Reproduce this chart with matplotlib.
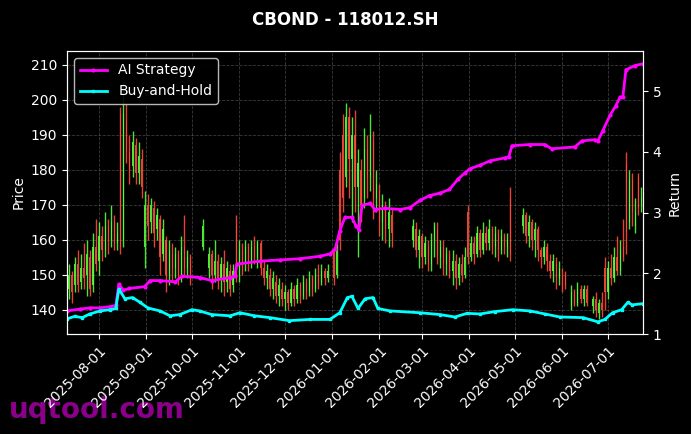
import matplotlib
matplotlib.use("Agg")
import matplotlib.pyplot as plt
import matplotlib.dates as mdates
import numpy as np
import pandas as pd

# start of the x range; every "day" value below is an offset in days from it
start = pd.Timestamp("2025-07-11")
end = pd.Timestamp("2026-07-24")

# candles (price axis)
candle_day = [1, 3, 5, 7, 9, 11, 13, 15, 17, 19, 21, 23, 25, 27, 29, 31, 33, 35, 37, 39,
              41, 43, 45, 47, 49, 51, 53, 55, 57, 59, 61, 63, 65, 67, 69, 71, 73, 75, 77, 79,
              81, 89, 93, 95, 97, 99, 101, 103, 105, 107, 109, 111, 113, 115, 117, 119, 121, 123, 125, 127,
              129, 131, 133, 135, 137, 139, 141, 143, 145, 147, 149, 151, 153, 155, 157, 159, 161, 163, 165, 167,
              169, 171, 175, 177, 179, 181, 183, 185, 187, 189, 191, 193, 195, 197, 199, 201, 203, 205, 207, 209,
              211, 213, 227, 229, 231, 233, 235, 237, 239, 241, 243, 245, 247, 249, 251, 253, 255, 257, 259, 261,
              263, 265, 267, 269, 271, 273, 275, 277, 279, 281, 283, 285, 287, 289, 291, 299, 301, 303, 305, 307,
              309, 311, 313, 315, 317, 319, 321, 323, 325, 327, 331, 333, 335, 337, 339, 341, 345, 347, 349, 351,
              353, 355, 357, 359, 361, 363, 365, 367, 369, 371, 373, 375, 377]
candle_open = [146, 150, 147, 153, 148, 152, 150, 155, 147, 158, 154, 161, 157, 164, 160, 165, 159, 196, 160, 194,
               185, 181, 187, 179, 183, 158, 170, 165, 169, 163, 166, 156, 160, 150, 156, 152, 156, 150, 158, 152,
               155, 158, 152, 156, 150, 154, 149, 153, 148, 151, 147, 164, 150, 157, 153, 158, 154, 158, 155, 159,
               152, 149, 150, 146, 148, 144, 146, 143, 145, 142, 146, 143, 147, 144, 148, 145, 149, 146, 150, 148,
               151, 149, 157, 150, 180, 190, 178, 195, 183, 190, 175, 180, 172, 186, 178, 188, 172, 174, 165, 169,
               163, 167, 160, 163, 157, 161, 155, 158, 153, 160, 163, 155, 158, 153, 156, 151, 154, 149, 153, 150,
               168, 155, 159, 156, 162, 157, 162, 159, 163, 158, 162, 157, 161, 158, 172, 164, 167, 161, 165, 160,
               163, 157, 155, 158, 154, 151, 153, 149, 150, 150, 141, 145, 142, 146, 143, 146, 141, 143, 139, 142,
               152, 145, 152, 149, 155, 151, 158, 182, 165, 177, 164, 178, 170]
candle_close = [150, 145, 153, 147, 152, 149, 156, 146, 158, 153, 161, 157, 164, 160, 165, 159, 162, 158, 196, 185,
                180, 188, 179, 184, 175, 170, 164, 170, 162, 167, 155, 163, 150, 157, 152, 156, 150, 158, 152, 155,
                150, 164, 156, 150, 154, 149, 153, 148, 152, 146, 151, 150, 157, 153, 158, 154, 158, 155, 159, 152,
                149, 151, 146, 149, 144, 147, 143, 145, 142, 146, 143, 147, 144, 148, 145, 149, 146, 150, 147, 151,
                149, 151, 149, 158, 160, 172, 195, 183, 190, 175, 182, 170, 186, 178, 190, 172, 176, 165, 170, 163,
                168, 162, 164, 157, 161, 155, 159, 153, 160, 164, 155, 158, 153, 156, 151, 154, 149, 153, 150, 155,
                155, 159, 156, 162, 157, 162, 159, 163, 158, 162, 157, 161, 158, 160, 156, 167, 161, 165, 160, 163,
                157, 155, 158, 154, 151, 154, 149, 152, 146, 147, 145, 142, 146, 143, 146, 142, 143, 140, 142, 140,
                145, 152, 149, 155, 151, 157, 155, 162, 177, 168, 168, 169, 172]
candle_high = [153, 151, 155, 157, 156, 159, 160, 157, 162, 166, 165, 164, 168, 166, 170, 167, 165, 198, 205, 199,
               190, 191, 189, 188, 186, 174, 173, 172, 171, 169, 167, 166, 161, 160, 159, 158, 157, 161, 167, 157,
               156, 166, 158, 157, 160, 156, 155, 157, 154, 153, 153, 167, 160, 159, 160, 159, 160, 161, 160, 160,
               154, 153, 152, 151, 150, 149, 148, 147, 146, 148, 147, 149, 148, 150, 149, 151, 150, 152, 153, 153,
               152, 153, 158, 160, 185, 196, 199, 198, 195, 197, 186, 183, 192, 190, 196, 191, 180, 176, 173, 171,
               172, 169, 166, 165, 163, 162, 161, 160, 162, 165, 165, 160, 160, 158, 157, 157, 156, 155, 156, 158,
               170, 161, 161, 164, 163, 165, 164, 166, 164, 164, 163, 163, 162, 162, 175, 169, 168, 167, 166, 165,
               164, 158, 160, 159, 156, 156, 155, 154, 152, 151, 147, 146, 148, 147, 147, 147, 144, 145, 143, 145,
               155, 154, 156, 158, 161, 160, 166, 185, 180, 179, 172, 179, 175]
candle_low = [143, 142, 145, 145, 146, 146, 144, 144, 145, 151, 150, 154, 155, 156, 158, 157, 157, 156, 158, 182,
              176, 178, 176, 176, 172, 152, 160, 162, 158, 160, 150, 154, 145, 147, 148, 149, 147, 148, 150, 149,
              147, 157, 149, 146, 148, 146, 145, 144, 145, 144, 145, 148, 148, 150, 151, 151, 152, 153, 152, 150,
              147, 146, 144, 143, 142, 141, 141, 140, 140, 141, 141, 142, 142, 143, 143, 144, 144, 145, 146, 147,
              147, 148, 147, 149, 157, 168, 175, 172, 165, 168, 155, 165, 169, 172, 174, 166, 168, 161, 160, 159,
              158, 158, 158, 155, 152, 152, 153, 151, 151, 155, 153, 152, 150, 150, 149, 147, 146, 147, 148, 149,
              153, 154, 153, 155, 155, 156, 157, 157, 156, 155, 154, 156, 156, 155, 154, 162, 159, 158, 157, 155,
              154, 152, 153, 151, 149, 148, 146, 147, 145, 146, 140, 141, 141, 142, 141, 141, 139, 138, 137.5, 138,
              140, 143, 147, 148, 150, 150, 154, 156, 163, 164, 162, 167, 168]

# cumulative return (right axis)
ai_day = [0, 8.5, 15, 21.7, 28, 32, 34, 37, 41, 51, 54.5, 61, 71, 75.5, 87, 95, 107, 110, 111.5, 126.6,
          140, 153, 166, 172.6, 176, 179, 182.4, 187, 189.6, 191.6, 193.6, 199, 202, 208.7, 218.5, 225, 231.6, 238, 244.8, 251,
          256.6, 261, 264.4, 271, 277.6, 287.4, 290, 292, 303.8, 313.6, 318, 333.3, 338, 346.5, 348.4, 351.7, 356.3, 360, 362.9, 364.8,
          366.8, 372.7, 378]
ai_ret = [1.38, 1.41, 1.43, 1.43, 1.45, 1.47, 1.82, 1.72, 1.75, 1.78, 1.88, 1.88, 1.86, 1.95, 1.93, 1.88, 1.93, 1.95, 2.15, 2.20,
          2.22, 2.24, 2.28, 2.32, 2.40, 2.70, 2.92, 2.92, 2.78, 2.72, 3.12, 3.15, 3.05, 3.07, 3.05, 3.08, 3.20, 3.28, 3.32, 3.38,
          3.55, 3.65, 3.72, 3.78, 3.85, 3.90, 3.92, 4.10, 4.12, 4.12, 4.05, 4.08, 4.18, 4.20, 4.18, 4.35, 4.60, 4.75, 4.90, 4.90,
          5.35, 5.42, 5.45]
bh_day = [0, 5, 10, 15, 21.7, 28, 32, 34, 38, 43, 48, 53, 61, 67.6, 74, 82, 87, 95, 107, 113.5,
          123, 133, 146, 159.4, 172.6, 179, 184, 187, 191, 195.6, 200.8, 204, 212, 231.6, 244.8, 254.6, 262.5, 271, 281, 292.7,
          303.8, 313.6, 323.5, 338.6, 348.4, 353, 358, 364, 368, 371, 378]
bh_ret = [1.25, 1.29, 1.27, 1.33, 1.38, 1.40, 1.42, 1.74, 1.58, 1.60, 1.52, 1.43, 1.38, 1.30, 1.32, 1.40, 1.38, 1.32, 1.30, 1.35,
          1.30, 1.27, 1.22, 1.24, 1.24, 1.35, 1.60, 1.62, 1.42, 1.58, 1.60, 1.42, 1.38, 1.35, 1.32, 1.28, 1.34, 1.33, 1.37, 1.40,
          1.38, 1.33, 1.28, 1.27, 1.20, 1.24, 1.35, 1.40, 1.52, 1.48, 1.50]

plt.style.use("dark_background")
fig = plt.figure(figsize=(6.91, 4.34), dpi=100)
ax = fig.add_axes([0.097, 0.2304, 0.8335, 0.6521])
ax2 = ax.twinx()

# candlesticks
cx = mdates.date2num(start + pd.to_timedelta(candle_day, unit="D"))
o = np.array(candle_open, dtype=float)
c = np.array(candle_close, dtype=float)
up = c >= o
colors = np.where(up, "#55ff3a", "#ff4a3a")
ax.vlines(cx, candle_low, candle_high, colors=colors, linewidth=1.0, alpha=0.9)
ax.bar(cx, np.abs(c - o), bottom=np.minimum(o, c), width=0.8, color=colors,
       linewidth=0, alpha=0.9)

# strategy lines
ai_x = start + pd.to_timedelta(ai_day, unit="D")
bh_x = start + pd.to_timedelta(bh_day, unit="D")
ax2.plot(ai_x, ai_ret, color="#ff00ff", linewidth=2, marker="o", markersize=2, label="AI Strategy")
ax2.plot(bh_x, bh_ret, color="#00ffff", linewidth=2, marker="s", markersize=2, label="Buy-and-Hold")

ax.set_xlim(start, end)
ax.set_ylim(133.14, 214)
ax2.set_ylim(1, 5.66)
ax.set_yticks([140, 150, 160, 170, 180, 190, 200, 210])
ax2.set_yticks([1, 2, 3, 4, 5])

ax.xaxis.set_major_locator(mdates.MonthLocator())
ax.xaxis.set_major_formatter(mdates.DateFormatter("%Y-%m-%d"))
for lab in ax.get_xticklabels():
    lab.set_rotation(45)
    lab.set_ha("right")
    lab.set_rotation_mode("anchor")

ax.grid(True, linestyle="--", linewidth=0.6, color="gray", alpha=0.45)
ax.set_ylabel("Price")
ax2.set_ylabel("Return")

ax2.legend(loc="upper left", fontsize=10, facecolor="black", edgecolor="#cccccc", framealpha=0.9)

fig.suptitle("CBOND - 118012.SH", fontsize=12, fontweight="bold", color="white", y=0.975, va="top")
fig.text(0.013, 0.037, "uqtool.com", fontsize=20, fontweight="bold", color="#8b008b",
         va="baseline", ha="left", zorder=-1)

fig.savefig("out.png", dpi=100, facecolor="black")
